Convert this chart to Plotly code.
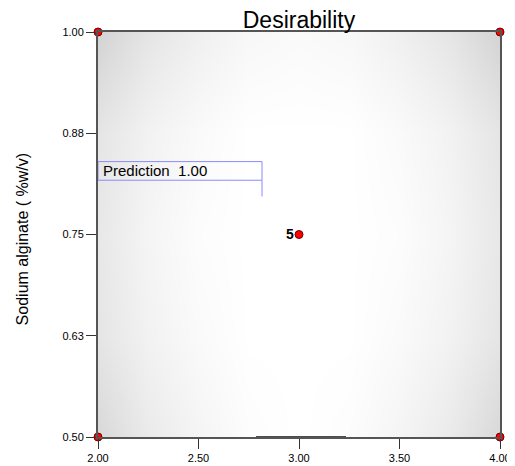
import plotly.graph_objects as go

# Factor grid (x factor / Sodium alginate on y)
x_grid = [2.0, 2.25, 2.5, 2.75, 3.0, 3.25, 3.5, 3.75, 4.0]
y_grid = [0.5, 0.625, 0.75, 0.875, 1.0]
# Desirability read from shading (rows follow y_grid)
desirability = [
    [0.85, 0.92, 0.96, 0.99, 1.00, 0.99, 0.96, 0.92, 0.85],
    [0.90, 0.95, 0.98, 1.00, 1.00, 1.00, 0.98, 0.95, 0.90],
    [0.91, 0.96, 0.99, 1.00, 1.00, 1.00, 0.99, 0.96, 0.91],
    [0.90, 0.95, 0.98, 1.00, 1.00, 1.00, 0.98, 0.95, 0.90],
    [0.83, 0.90, 0.94, 0.97, 0.98, 0.97, 0.94, 0.90, 0.83],
]

design_x = [2.0, 2.0, 4.0, 4.0, 3.0]
design_y = [0.5, 1.0, 0.5, 1.0, 0.75]
center_label = "5"

x_ticks = [2.0, 2.5, 3.0, 3.5, 4.0]
x_ticklabels = ["2.00", "2.50", "3.00", "3.50", "4.00"]
y_ticks = [0.5, 0.625, 0.75, 0.875, 1.0]
y_ticklabels = ["0.50", "0.63", "0.75", "0.88", "1.00"]

prediction_text = "Prediction  1.00"
pred_box_x = [2.0, 2.816]
pred_box_y = [0.817, 0.840]
pred_leader_y = 0.797

# optimum contour touching the lower edge
edge_contour_x = [2.786, 3.234]
edge_contour_y = 0.5

FONT = "Liberation Sans, Arial"

fig = go.Figure()
fig.add_trace(go.Heatmap(
    x=x_grid, y=y_grid, z=desirability, zsmooth="best",
    zmin=0.8, zmax=1.0,
    colorscale=[[0, "#cbcbcb"], [1, "#ffffff"]],
    showscale=False, hoverinfo="skip",
))
fig.add_trace(go.Scatter(
    x=edge_contour_x, y=[edge_contour_y, edge_contour_y], mode="lines",
    line=dict(color="#111111", width=1.5), cliponaxis=False,
    showlegend=False, hoverinfo="skip",
))
fig.add_trace(go.Scatter(
    x=design_x, y=design_y, mode="markers",
    marker=dict(color="#ff0000", size=8, line=dict(color="#700000", width=1)),
    cliponaxis=False, showlegend=False,
))
fig.add_annotation(x=design_x[4], y=design_y[4], text="<b>" + center_label + "</b>",
                   showarrow=False, xanchor="right", xshift=-3, yshift=1,
                   font=dict(family=FONT, size=14, color="black"))

# Prediction flag
fig.add_shape(type="rect", xref="x", yref="y",
              x0=pred_box_x[0], x1=pred_box_x[1], y0=pred_box_y[0], y1=pred_box_y[1],
              line=dict(color="#8a8aff", width=1), fillcolor="rgba(255,255,255,0)")
fig.add_shape(type="line", xref="x", yref="y",
              x0=pred_box_x[1], x1=pred_box_x[1], y0=pred_box_y[0], y1=pred_leader_y,
              line=dict(color="#8a8aff", width=1))
fig.add_annotation(x=pred_box_x[0], y=(pred_box_y[0] + pred_box_y[1]) / 2,
                   text=prediction_text, showarrow=False, xanchor="left", xshift=3,
                   font=dict(family=FONT, size=15, color="black"))

# Y axis title
fig.add_annotation(xref="paper", yref="paper", x=-0.187, y=0.49,
                   text="Sodium alginate ( %w/v)", textangle=-90, showarrow=False,
                   xanchor="center", yanchor="middle",
                   font=dict(family=FONT, size=16, color="black"))

axis_common = dict(
    showgrid=False, zeroline=False, showline=True, linecolor="#555555", linewidth=2,
    mirror=True, ticks="outside", ticklen=10, tickcolor="#333333", tickwidth=1,
    tickfont=dict(family=FONT, size=11, color="black"),
)
fig.update_xaxes(range=[2.0, 4.0], tickvals=x_ticks, ticktext=x_ticklabels, **axis_common)
fig.update_yaxes(range=[0.5, 1.0], tickvals=y_ticks, ticktext=y_ticklabels, **axis_common)

fig.update_layout(
    width=507, height=458,
    margin=dict(l=90, r=15, t=24, b=29, autoexpand=False),
    paper_bgcolor="white", plot_bgcolor="white",
    title=dict(text="Desirability", xref="paper", x=0.5, xanchor="center",
               yref="container", y=0.973, yanchor="middle",
               font=dict(family=FONT, size=23, color="black")),
    showlegend=False,
)

fig.write_html("out.html")
